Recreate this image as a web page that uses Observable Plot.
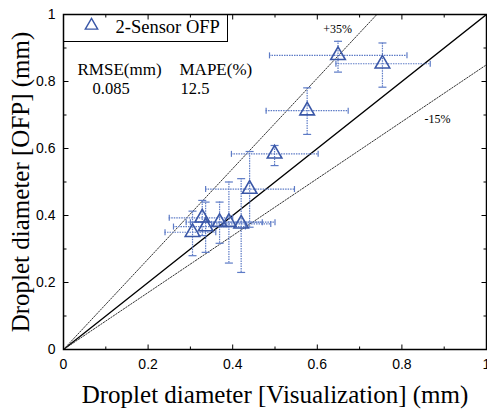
<!DOCTYPE html>
<html><head><meta charset="utf-8">
<script src="https://cdn.jsdelivr.net/npm/d3@7"></script>
<script src="https://cdn.jsdelivr.net/npm/@observablehq/plot@0.6"></script>
<style>body{margin:0;overflow:hidden;background:#fff}</style>
</head><body><div id="chart"></div>
<script>
// Data
const xVis  = [0.649, 0.754, 0.576, 0.499, 0.440, 0.420, 0.391, 0.369, 0.336, 0.328, 0.305];
const yOfp  = [0.878, 0.853, 0.713, 0.584, 0.479, 0.375, 0.380, 0.380, 0.367, 0.393, 0.350];
const xLow  = [0.487, 0.644, 0.479, 0.397, 0.336, 0.350, 0.300, 0.290, 0.260, 0.250, 0.240];
const xHigh = [0.812, 0.867, 0.673, 0.602, 0.546, 0.490, 0.500, 0.470, 0.430, 0.400, 0.360];
const yLow  = [0.828, 0.783, 0.642, 0.549, 0.365, 0.230, 0.258, 0.317, 0.290, 0.340, 0.280];
const yHigh = [0.920, 0.915, 0.781, 0.609, 0.591, 0.510, 0.500, 0.440, 0.440, 0.445, 0.413];
const majorTicks = [0, 0.2, 0.4, 0.6, 0.8, 1];
const minorTicks = [0.1, 0.3, 0.5, 0.7, 0.9];
const refSlopes = [1, 1.35, 0.85];
const refLabels = ["+35%", "-15%"];
const refLabelX = [0.648, 0.884];
const refLabelY = [0.955, 0.687];
const seriesName = "2-Sensor OFP";
const statHeads = ["RMSE(mm)", "MAPE(%)"];
const statVals = ["0.085", "12.5"];
const xTitle = "Droplet diameter [Visualization] (mm)";
const yTitle = "Droplet diameter [OFP] (mm)";

const data = xVis.map((x, i) => ({x, y: yOfp[i], x1: xLow[i], x2: xHigh[i], y1: yLow[i], y2: yHigh[i]}));
const refs = refSlopes.map(s => ({s}));
const labels = refLabels.map((t, i) => ({t, x: refLabelX[i], y: refLabelY[i]}));

const seg = (dx, dy) => ({draw(ctx) { ctx.moveTo(0, 0); ctx.lineTo(dx, dy); }});
const cap = (w, h) => ({draw(ctx) { ctx.moveTo(-w / 2, -h / 2); ctx.lineTo(w / 2, h / 2); }});

const blue = "#3a57a7";
const barBlue = "#5d7bc6";
const serif = "Liberation Serif, Times New Roman, serif";

const tickMarks = [];
for (const [list, len] of [[majorTicks, 5], [minorTicks, 3]]) {
  tickMarks.push(
    Plot.dot(list, {x: d => d, y: () => 0, r: 1, symbol: seg(0, -len), stroke: "black", fill: "none", strokeWidth: 1}),
    Plot.dot(list, {x: d => d, y: () => 1, r: 1, symbol: seg(0, len), stroke: "black", fill: "none", strokeWidth: 1}),
    Plot.dot(list, {y: d => d, x: () => 0, r: 1, symbol: seg(len, 0), stroke: "black", fill: "none", strokeWidth: 1}),
    Plot.dot(list, {y: d => d, x: () => 1, r: 1, symbol: seg(-len, 0), stroke: "black", fill: "none", strokeWidth: 1})
  );
}

const chart = Plot.plot({
  width: 487, height: 411,
  marginLeft: 63, marginRight: 1, marginTop: 14, marginBottom: 62,
  x: {domain: [0, 1]},
  y: {domain: [0, 1]},
  style: {fontFamily: "Liberation Sans, Arial, sans-serif", background: "white", overflow: "visible"},
  marks: [
    // reference lines
    ...refs.map(r => Plot.line([0, 1], {x: d => d, y: d => r.s * d, clip: true,
      stroke: r.s === 1 ? "black" : "#333", strokeWidth: r.s === 1 ? 1.3 : 1,
      strokeDasharray: r.s === 1 ? null : "1.5,1.5"})),
    Plot.text(labels, {x: "x", y: "y", text: "t", fontFamily: serif, fontSize: 12, fill: "black"}),
    // error bars
    Plot.ruleX(data, {x: "x", y1: "y1", y2: "y2", stroke: barBlue, strokeWidth: 1.2, strokeDasharray: "1.5,1"}),
    Plot.ruleY(data, {y: "y", x1: "x1", x2: "x2", stroke: barBlue, strokeWidth: 1.2, strokeDasharray: "1.5,1"}),
    Plot.dot(data, {x: "x", y: "y1", r: 1, symbol: cap(8, 0), stroke: barBlue, fill: "none", strokeWidth: 1.2}),
    Plot.dot(data, {x: "x", y: "y2", r: 1, symbol: cap(8, 0), stroke: barBlue, fill: "none", strokeWidth: 1.2}),
    Plot.dot(data, {x: "x1", y: "y", r: 1, symbol: cap(0, 6), stroke: barBlue, fill: "none", strokeWidth: 1.2}),
    Plot.dot(data, {x: "x2", y: "y", r: 1, symbol: cap(0, 6), stroke: barBlue, fill: "none", strokeWidth: 1.2}),
    // points
    Plot.dot(data, {x: "x", y: "y", symbol: "triangle", r: 5.4, stroke: blue, fill: "none", strokeWidth: 1.6}),
    // frame and ticks
    Plot.frame({stroke: "black", strokeWidth: 1.5}),
    ...tickMarks,
    Plot.axisX({ticks: majorTicks, tickSize: 0, tickPadding: 10, label: null, tickFormat: d => String(d), fontSize: 14}),
    Plot.axisY({ticks: majorTicks, tickSize: 0, tickPadding: 8, label: null, tickFormat: d => String(d), fontSize: 14}),
    // axis titles
    Plot.text([xTitle], {frameAnchor: "bottom", dy: 45, text: d => d, textAnchor: "middle", fontFamily: serif, fontSize: 25, fill: "black", lineAnchor: "middle"}),
    Plot.text([yTitle], {frameAnchor: "left", dx: -43, rotate: -90, text: d => d, textAnchor: "middle", fontFamily: serif, fontSize: 25, fill: "black", lineAnchor: "middle"}),
    // legend
    Plot.frame({stroke: "black", strokeWidth: 1, insetRight: 259, insetBottom: 308}),
    Plot.dot([seriesName], {frameAnchor: "top-left", dx: 28, dy: 11, symbol: "triangle", r: 4.6, stroke: blue, fill: "none", strokeWidth: 1.4}),
    Plot.text([seriesName], {frameAnchor: "top-left", dx: 52, dy: 12.5, text: d => d, textAnchor: "start", lineAnchor: "middle", fontFamily: serif, fontSize: 18.5, fill: "black"}),
    Plot.text([statHeads[0]], {frameAnchor: "top-left", dx: 14, dy: 55, text: d => d, textAnchor: "start", lineAnchor: "middle", fontFamily: serif, fontSize: 17, fill: "black"}),
    Plot.text([statHeads[1]], {frameAnchor: "top-left", dx: 116, dy: 55, text: d => d, textAnchor: "start", lineAnchor: "middle", fontFamily: serif, fontSize: 17, fill: "black"}),
    Plot.text([statVals[0]], {frameAnchor: "top-left", dx: 29, dy: 74, text: d => d, textAnchor: "start", lineAnchor: "middle", fontFamily: serif, fontSize: 16.5, fill: "black"}),
    Plot.text([statVals[1]], {frameAnchor: "top-left", dx: 117, dy: 74, text: d => d, textAnchor: "start", lineAnchor: "middle", fontFamily: serif, fontSize: 16.5, fill: "black"})
  ]
});
document.getElementById("chart").appendChild(chart);
</script>
</body></html>
